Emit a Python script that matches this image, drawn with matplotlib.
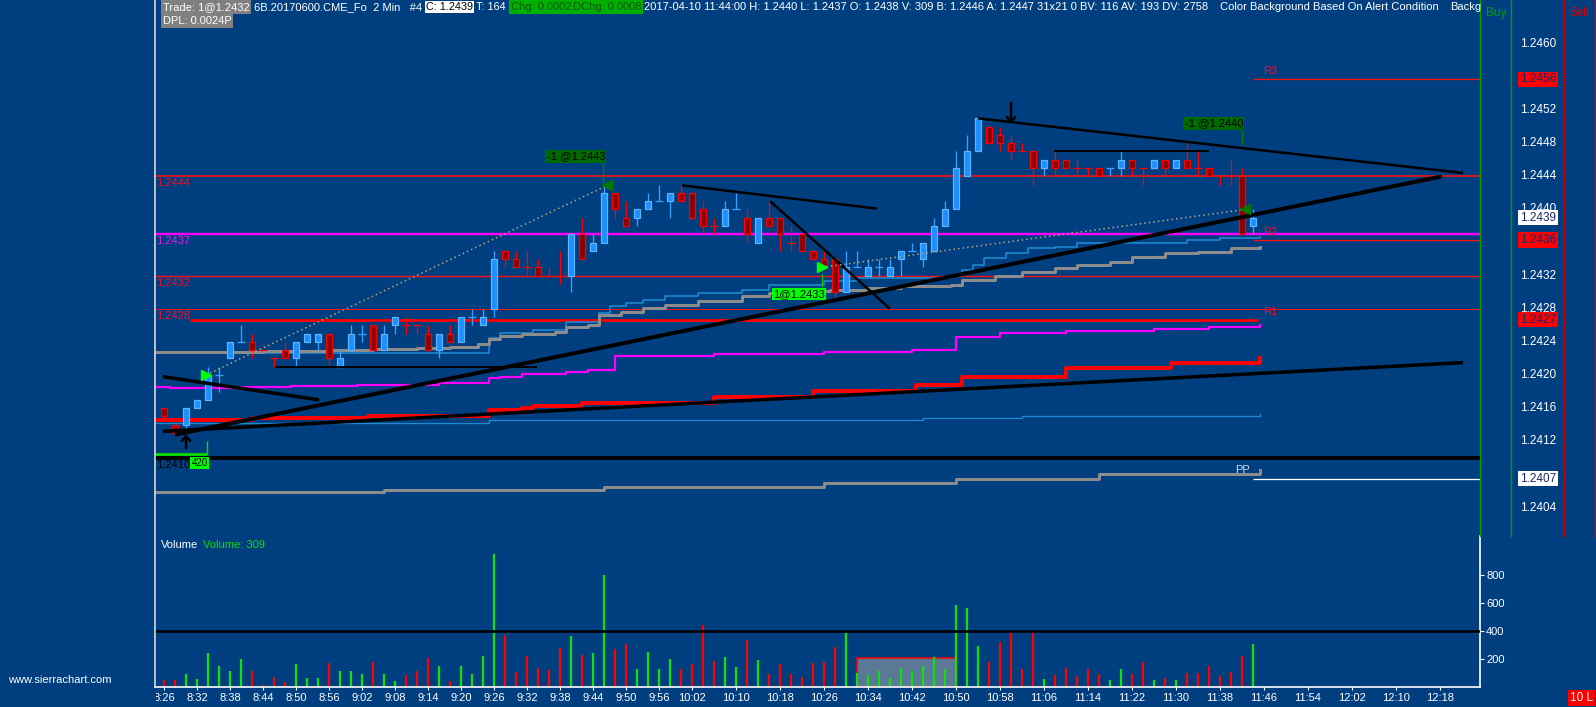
import numpy as np
import matplotlib
matplotlib.use("Agg")
import matplotlib.pyplot as plt
from matplotlib import transforms
from matplotlib.patches import Rectangle
from matplotlib.lines import Line2D
from matplotlib.transforms import Bbox, TransformedBbox

plt.rcParams['font.family'] = ['Liberation Sans', 'DejaVu Sans']

# ---------------- data (2 min bars of 6B from 8:26) ----------------
opens = [1.2416, 1.2414, 1.2414, 1.2416, 1.2417, 1.2420, 1.2422, 1.2424, 1.2424, 1.2423,
         1.2422, 1.2423, 1.2422, 1.2424, 1.2424, 1.2425, 1.2421, 1.2423, 1.2425, 1.2426,
         1.2423, 1.2426, 1.2426, 1.2426, 1.2425, 1.2423, 1.2425, 1.2424, 1.2427, 1.2426,
         1.2428, 1.2435, 1.2434, 1.2433, 1.2433, 1.2432, 1.2432, 1.2432, 1.2437, 1.2435,
         1.2436, 1.2442, 1.2439, 1.2439, 1.2440, 1.2441, 1.2441, 1.2442, 1.2442, 1.2440,
         1.2438, 1.2438, 1.2440, 1.2439, 1.2436, 1.2439, 1.2439, 1.2436, 1.2437, 1.2435,
         1.2434, 1.2434, 1.2430, 1.2433, 1.2432, 1.2433, 1.2432, 1.2434, 1.2435, 1.2434,
         1.2435, 1.2438, 1.2440, 1.2444, 1.2447, 1.2450, 1.2449, 1.2448, 1.2447, 1.2447,
         1.2445, 1.2446, 1.2446, 1.2445, 1.2445, 1.2445, 1.2445, 1.2445, 1.2446, 1.2445,
         1.2445, 1.2446, 1.2445, 1.2446, 1.2445, 1.2445, 1.2444, 1.2444, 1.2444, 1.2438]
highs = [1.2416, 1.2414, 1.2416, 1.2417, 1.2421, 1.2421, 1.2424, 1.2426, 1.2425, 1.2423,
         1.2422, 1.2424, 1.2424, 1.2425, 1.2425, 1.2425, 1.2423, 1.2426, 1.2426, 1.2426,
         1.2426, 1.2427, 1.2427, 1.2426, 1.2426, 1.2425, 1.2426, 1.2427, 1.2428, 1.2428,
         1.2435, 1.2435, 1.2435, 1.2435, 1.2434, 1.2433, 1.2435, 1.2437, 1.2439, 1.2437,
         1.2443, 1.2442, 1.2441, 1.2440, 1.2442, 1.2443, 1.2442, 1.2443, 1.2442, 1.2441,
         1.2439, 1.2441, 1.2442, 1.2440, 1.2439, 1.2441, 1.2439, 1.2438, 1.2437, 1.2435,
         1.2435, 1.2434, 1.2435, 1.2435, 1.2434, 1.2434, 1.2434, 1.2435, 1.2436, 1.2436,
         1.2439, 1.2441, 1.2447, 1.2449, 1.2451, 1.2450, 1.2450, 1.2449, 1.2448, 1.2447,
         1.2446, 1.2447, 1.2446, 1.2446, 1.2445, 1.2445, 1.2445, 1.2447, 1.2446, 1.2445,
         1.2446, 1.2446, 1.2446, 1.2448, 1.2447, 1.2445, 1.2444, 1.2446, 1.2445, 1.2440]
lows = [1.24145, 1.2413, 1.2413, 1.2416, 1.2417, 1.2418, 1.2422, 1.2424, 1.2422, 1.2423,
        1.2421, 1.2422, 1.2421, 1.2424, 1.2423, 1.2421, 1.2421, 1.2423, 1.2424, 1.2423,
        1.2423, 1.2425, 1.2425, 1.2425, 1.2423, 1.2422, 1.2424, 1.2424, 1.2426, 1.2426,
        1.2427, 1.2433, 1.2433, 1.2432, 1.2432, 1.2432, 1.2431, 1.2430, 1.2434, 1.2435,
        1.2436, 1.2439, 1.2438, 1.2438, 1.2440, 1.2441, 1.2439, 1.2441, 1.2439, 1.2437,
        1.2437, 1.2438, 1.2440, 1.2436, 1.2436, 1.2438, 1.2435, 1.2435, 1.2435, 1.2434,
        1.2433, 1.2429, 1.2430, 1.2433, 1.2432, 1.2432, 1.2432, 1.2432, 1.2435, 1.2433,
        1.2435, 1.2438, 1.2440, 1.2444, 1.2447, 1.2448, 1.2447, 1.2446, 1.2447, 1.2443,
        1.2444, 1.2444, 1.2445, 1.2444, 1.2444, 1.2444, 1.2444, 1.2444, 1.2444, 1.2443,
        1.2445, 1.2444, 1.2445, 1.2445, 1.2444, 1.2444, 1.2443, 1.2443, 1.2437, 1.2437]
closes = [1.2415, 1.2413, 1.2416, 1.2417, 1.2420, 1.2420, 1.2424, 1.2424, 1.2423, 1.2423,
          1.2422, 1.2422, 1.2424, 1.2425, 1.2425, 1.2422, 1.2422, 1.2425, 1.2425, 1.2423,
          1.2425, 1.2427, 1.2426, 1.2426, 1.2423, 1.2425, 1.2424, 1.2427, 1.2427, 1.2427,
          1.2434, 1.2434, 1.2433, 1.2433, 1.2432, 1.2432, 1.2432, 1.2437, 1.2434, 1.2436,
          1.2442, 1.2440, 1.2438, 1.2440, 1.2441, 1.2441, 1.2442, 1.2441, 1.2439, 1.2438,
          1.2438, 1.2440, 1.2440, 1.2437, 1.2439, 1.2438, 1.2437, 1.2436, 1.2435, 1.2434,
          1.2433, 1.2430, 1.2433, 1.2433, 1.2433, 1.2433, 1.2433, 1.2435, 1.2435, 1.2436,
          1.2438, 1.2440, 1.2445, 1.2447, 1.2451, 1.2448, 1.2448, 1.2447, 1.2447, 1.2445,
          1.2446, 1.2445, 1.2445, 1.2445, 1.2445, 1.2444, 1.2445, 1.2446, 1.2445, 1.2445,
          1.2446, 1.2445, 1.2446, 1.2445, 1.2445, 1.2444, 1.2444, 1.2444, 1.2437, 1.2439]
# G = up bar, R = down bar (also the volume colour)
bar_dir = ("RRGGGGGGRR" "RRGGGRGGGR" "GGRRRGRGGG" "GRRRRRRGRG" "GRRGGGGRRR"
           "RGGRGRRRRR" "RRGGGGGGGG" "GGGGGRRRRR" "GRRRRRGGRR" "GRGRRRRRRG")
volumes = [51, 51, 93, 58, 240, 149, 114, 198, 114, 16,
           72, 37, 163, 65, 65, 170, 114, 114, 93, 177,
           93, 44, 86, 114, 205, 149, 44, 149, 93, 219,
           951, 372, 107, 219, 135, 121, 281, 365, 226, 240,
           798, 274, 309, 128, 247, 128, 198, 128, 163, 442,
           184, 212, 142, 337, 191, 93, 163, 93, 72, 170,
           177, 288, 393, 100, 86, 114, 65, 135, 114, 149,
           212, 128, 588, 567, 295, 177, 323, 386, 128, 393,
           58, 86, 135, 79, 128, 93, 51, 128, 93, 177,
           51, 65, 51, 100, 100, 149, 79, 107, 219, 309]

tick_labels = ['8:26', '8:32', '8:38', '8:44', '8:50', '8:56', '9:02', '9:08', '9:14',
               '9:20', '9:26', '9:32', '9:38', '9:44', '9:50', '9:56', '10:02',
               '10:10', '10:18', '10:26', '10:34', '10:42', '10:50', '10:58', '11:06',
               '11:14', '11:22', '11:30', '11:38', '11:46', '11:54', '12:02', '12:10', '12:18']

# stepped study lines: (bar, value) knots
grey_ma_bars = [-0.8, 9, 15, 19, 23, 26, 28.5, 29.5, 30.5, 32.5, 35.5, 36.5, 38.5, 39.5, 41.5,
                43.5, 45.5, 48.5, 52.5, 55, 56.5, 60.5, 64, 67, 71.5, 72.5, 75.5, 78, 81, 83,
                86, 88, 91, 94, 97, 99.6]
grey_ma_vals = [1.24228, 1.24229, 1.24230, 1.24231, 1.24233, 1.24234, 1.24237, 1.24244, 1.24247,
                1.24250, 1.24252, 1.24258, 1.24261, 1.24272, 1.24276, 1.24281, 1.24285, 1.24289,
                1.24295, 1.24299, 1.24301, 1.24303, 1.24305, 1.24307, 1.24309, 1.24315, 1.24319,
                1.24325, 1.24329, 1.24333, 1.24337, 1.24343, 1.24347, 1.24349, 1.24353, 1.24355]
blue_ma_bars = [-0.8, 29.5, 30.5, 33.5, 36.5, 39.5, 40.5, 42, 43.5, 45.5, 48.5, 52.5, 55, 60,
                63, 71.5, 72.5, 73.5, 74.5, 76.5, 78.5, 81, 83, 93, 96, 99.6]
blue_ma_vals = [1.24226, 1.24245, 1.24251, 1.24254, 1.24264, 1.24275, 1.24283, 1.24287, 1.24291,
                1.24295, 1.24299, 1.24303, 1.24309, 1.24313, 1.24317, 1.24319, 1.24327, 1.24333,
                1.24341, 1.24347, 1.24353, 1.24355, 1.24359, 1.24363, 1.24366, 1.24367]
magenta_bars = [-0.8, 0.5, 7, 11.5, 17.5, 25, 29.5, 30.5, 32.5, 36.5, 38.5, 41, 50, 60, 68,
                72, 76, 82, 90, 95, 99.6]
magenta_vals = [1.24186, 1.24184, 1.24186, 1.24187, 1.24188, 1.24190, 1.24196, 1.24198, 1.24201,
                1.24204, 1.24206, 1.24223, 1.24225, 1.24228, 1.24230, 1.24246, 1.24251, 1.24253,
                1.24256, 1.24258, 1.24260]
red_ma_bars = [-0.8, 8, 18.5, 22.5, 29.5, 32.5, 33.5, 38, 40.6, 50, 59, 68.4, 72.5, 82, 91.5, 99.6]
red_ma_vals = [1.24146, 1.24148, 1.24150, 1.24151, 1.24158, 1.24160, 1.24162, 1.24166, 1.24166,
               1.24173, 1.24181, 1.24188, 1.24198, 1.24208, 1.24214, 1.24220]
blue_low_bars = [-0.8, 29.5, 69, 78, 99.6]
blue_low_vals = [1.24142, 1.24146, 1.24148, 1.24151, 1.24153]
grey_low_bars = [-0.8, 20, 40, 60, 72, 85, 99.6]
grey_low_vals = [1.24059, 1.24061, 1.24065, 1.24070, 1.24074, 1.24080, 1.24085]

# drawn trend lines: bar0, price0, bar1, price1, width(px)
trend_lines = [(1.0, 1.24128, 116.2, 1.24440, 4.0),
               (-0.1, 1.24132, 118.1, 1.24215, 3.5),
               (-0.1, 1.24198, 14.1, 1.24170, 3.5),
               (10.1, 1.24210, 33.9, 1.24210, 2.0),
               (47.1, 1.24429, 64.8, 1.24401, 2.5),
               (55.1, 1.24410, 66.0, 1.24280, 2.5),
               (74.0, 1.24510, 118.1, 1.24444, 2.5),
               (80.9, 1.24471, 95.0, 1.24471, 2.0)]

# full width price levels: price, colour, width(px), label
levels = [(1.2444, '#FF1010', 1.6, '1.2444', '#E8102F'),
          (1.2437, '#FF00FF', 2.4, '1.2437', '#E020E0'),
          (1.2432, '#FF1010', 1.4, '1.2432', '#E8102F'),
          (1.2428, '#FF1010', 1.0, '1.2428', '#E8102F'),
          (1.2410, '#000000', 3.8, '1.2410', '#000000')]
daily_level = 1.24267
pivots = [('R3', 1.24557), ('R2', 1.24363), ('PP', 1.24075)]
r1_level = 1.2428
pivot_start = 99.0

# labels on the price scale (the ones covered by marker boxes are not drawn)
axis_prices = [1.2460, 1.2452, 1.2448, 1.2444, 1.2440, 1.2432, 1.2428,
               1.2424, 1.2420, 1.2416, 1.2412, 1.2404]
last_price = 1.2439

# trade fills: bar, price
buy_fills = [(3.8, 1.24200), (59.8, 1.24330)]
sell_fills = [(40.3, 1.24429), (98.3, 1.24400)]
vol_zone = (63, 72, 210)

# ---------------- layout ----------------
W, H = 1596, 707
BG = '#003F7F'
X0, X1 = 155, 1480
MAIN_BOT, VOL_BOT = 536, 687
BAR0_PX, BAR_PX = 164, 11.0
REF_PRICE, REF_PX, PX_PER_PRICE = 1.2444, 176.3, 82800.0
VOL_PX_PER_200 = 28.0
PT = 0.72  # points per pixel


def price_at(py):
    return REF_PRICE - (py - REF_PX) / PX_PER_PRICE


def fx(px):
    return px / W


def fy(py):
    return 1 - py / H


fig = plt.figure(figsize=(W / 100, H / 100), dpi=100, facecolor=BG)

ax = fig.add_axes([fx(X0), fy(MAIN_BOT), (X1 - X0) / W, MAIN_BOT / H])
xl, xr = (X0 - BAR0_PX) / BAR_PX, (X1 - BAR0_PX) / BAR_PX
ax.set_xlim(xl, xr)
ax.set_ylim(price_at(MAIN_BOT), price_at(0))
ax.axis('off')

axv = fig.add_axes([fx(X0), fy(VOL_BOT), (X1 - X0) / W, (VOL_BOT - MAIN_BOT) / H])
axv.set_facecolor(BG)
axv.set_xlim(xl, xr)
axv.set_ylim(0, (VOL_BOT - MAIN_BOT) * 200 / VOL_PX_PER_200)

# ---------------- price levels ----------------
below = transforms.offset_copy(ax.transData, fig=fig, y=-2, units='dots')
for p, col, w, lab, lcol in levels:
    ax.axhline(p, color=col, lw=w * PT, zorder=1)
    ax.text(xl + 0.08, p, lab, color=lcol, fontsize=8, va='top', ha='left',
            transform=below, zorder=6)
ax.hlines(daily_level, 2.36, 99.45, color='#FF0000', lw=2.8 * PT, zorder=1)

for name, p in pivots:
    col = '#FFFFFF' if name == 'PP' else '#FF1010'
    ax.hlines(p, pivot_start, xr, color=col, lw=1.3 * PT, zorder=1)
above = transforms.offset_copy(ax.transData, fig=fig, y=3, units='dots')
ax.text(pivot_start + 0.9, pivots[0][1], 'R3', color='#E8102F', fontsize=8, va='bottom',
        transform=above)
ax.text(pivot_start + 0.9, pivots[1][1], 'R2', color='#E8102F', fontsize=8, va='bottom',
        transform=above)
ax.text(pivot_start + 0.9, r1_level, 'R1', color='#E8102F', fontsize=8, va='top',
        transform=transforms.offset_copy(ax.transData, fig=fig, y=2, units='dots'))
ax.text(pivot_start - 0.3, grey_low_vals[-1], 'PP', color='#D8D8D8', fontsize=8,
        va='center', ha='right')

# ---------------- studies ----------------
ax.plot(blue_low_bars, blue_low_vals, drawstyle='steps-post', color='#1F8AD0', lw=1.3 * PT, zorder=2)
ax.plot(grey_low_bars, grey_low_vals, drawstyle='steps-post', color='#8C8C8C', lw=3 * PT, zorder=2)
ax.plot(red_ma_bars, red_ma_vals, drawstyle='steps-post', color='#FF0000', lw=4 * PT, zorder=2)
ax.plot(magenta_bars, magenta_vals, drawstyle='steps-post', color='#FF00FF', lw=2.2 * PT, zorder=2)
ax.plot(blue_ma_bars, blue_ma_vals, drawstyle='steps-post', color='#1F8AD0', lw=1.6 * PT, zorder=2)
ax.plot(grey_ma_bars, grey_ma_vals, drawstyle='steps-post', color='#8C8C8C', lw=3 * PT, zorder=2)

# ---------------- candles ----------------
o, h, l, c = map(np.array, (opens, highs, lows, closes))
idx = np.arange(len(o))
up = np.array([d == 'G' for d in bar_dir])
wick_col = np.where(up, '#3D9EFF', '#FF0000')
fill_col = np.where(up, '#1E8FFF', '#8B0000')
edge_col = np.where(up, '#5CB6FF', '#FF0000')
ax.vlines(idx, l, h, colors=wick_col, lw=1.3 * PT, zorder=3)
solid = c != o
ax.bar(idx[solid], np.abs(c - o)[solid], bottom=np.minimum(o, c)[solid], width=0.56,
       color=fill_col[solid], edgecolor=edge_col[solid], linewidth=1.2 * PT, zorder=4)
dj = ~solid
ax.hlines(o[dj], idx[dj] - 0.33, idx[dj] + 0.33, colors=wick_col[dj], lw=1.3 * PT, zorder=4)

# ---------------- drawings ----------------
for b0, p0, b1, p1, w in trend_lines:
    ax.plot([b0, b1], [p0, p1], color='black', lw=w * PT, solid_capstyle='butt', zorder=5)

ax.annotate('', xy=(77, 1.24500), xytext=(77, 1.24532),
            arrowprops=dict(arrowstyle='->,head_width=0.3,head_length=0.35', color='black',
                            lw=1.8), zorder=5)
ax.annotate('', xy=(2, 1.24132), xytext=(2, 1.24108),
            arrowprops=dict(arrowstyle='->,head_width=0.3,head_length=0.35', color='black',
                            lw=1.8), zorder=5)

# trade connection lines
for (bb, bp), (sb, sp) in [(buy_fills[0], sell_fills[0]), (buy_fills[1], sell_fills[1])]:
    ax.plot([bb, sb], [bp, sp], color='#B8A27C', lw=1.1, ls=(0, (1, 2)), zorder=5)
for bb, bp in buy_fills:
    ax.plot(bb, bp, marker='>', ms=7, color='#00FF00', ls='none', zorder=6)
for sb, sp in sell_fills:
    ax.plot(sb, sp, marker='<', ms=7, color='#007A00', ls='none', zorder=6)

box_dk = dict(boxstyle='square,pad=0.12', fc='#006A00', ec='none')
box_lt = dict(boxstyle='square,pad=0.12', fc='#00FF00', ec='none')
ax.vlines(39.95, 1.24430, 1.24456, color='#008000', lw=1, zorder=6)
ax.text(40.1, 1.24458, '-1 @1.2443', ha='right', va='bottom', fontsize=8, color='black',
        bbox=box_dk, zorder=7)
ax.vlines(59.8, 1.24306, 1.24322, color='#00C000', lw=1, zorder=6)
ax.text(60.1, 1.24304, '1@1.2433', ha='right', va='top', fontsize=8, color='black',
        bbox=box_lt, zorder=7)
ax.vlines(97.97, 1.24478, 1.24496, color='#008000', lw=1, zorder=6)
ax.text(98.1, 1.24498, '-1 @1.2440', ha='right', va='bottom', fontsize=8, color='black',
        bbox=box_dk, zorder=7)
ax.hlines(1.24105, xl, 3.95, color='#00E000', lw=2, zorder=6)
ax.vlines(3.9, 1.24105, 1.24120, color='#00E000', lw=1, zorder=6)
ax.text(3.95, 1.24094, '420', ha='right', va='center', fontsize=7, color='black',
        bbox=box_lt, zorder=4)

# ---------------- price axis ----------------
right = transforms.blended_transform_factory(fig.transFigure, ax.transData)
for p in axis_prices:
    ax.text(fx(1520), p, f'{p:.4f}', transform=right, color='white', fontsize=8.5,
            va='center', ha='left', clip_on=False, zorder=8)
boxes = [(pivots[0][1], '1.2456', '#FF0000'), (pivots[1][1], '1.2436', '#FF0000'),
         (daily_level, '1.2427', '#FF0000'), (last_price, '1.2439', '#FFFFFF'),
         (pivots[2][1], '1.2407', '#FFFFFF')]
for p, lab, fc in boxes:
    ax.text(fx(1520), p, lab, transform=right, color='#1A2A66', fontsize=8.5, va='center',
            ha='left', clip_on=False, zorder=9,
            bbox=dict(boxstyle='square,pad=0.15', fc=fc, ec='none'))

# ---------------- volume ----------------
vcol = np.where(up, '#10E010', '#FF0000')
axv.add_patch(Rectangle((vol_zone[0], 0), vol_zone[1] - vol_zone[0], vol_zone[2],
                        fc='#7A8CA0', ec='#FF0000', lw=1.5, alpha=0.75, zorder=1))
axv.vlines(idx, 0, volumes, colors=vcol, lw=1.6 * PT * 1.4, zorder=2)
axv.axhline(400, color='black', lw=2.6 * PT, zorder=3)
for s in ('top', 'left'):
    axv.spines[s].set_visible(False)
for s in ('bottom', 'right'):
    axv.spines[s].set_color('white')
    axv.spines[s].set_linewidth(1.2)
axv.yaxis.tick_right()
axv.set_yticks([200, 400, 600, 800])
axv.tick_params(axis='y', colors='white', labelsize=8, length=3, pad=1.5)

start = 8 * 60 + 26
tick_pos = [(int(t.split(':')[0]) * 60 + int(t.split(':')[1]) - start) / 2 for t in tick_labels]
axv.set_xticks(tick_pos)
axv.set_xticklabels(tick_labels)
axv.tick_params(axis='x', colors='white', labelsize=8, length=2.5, pad=2)
first = axv.get_xticklabels()[0]
first.set_clip_box(TransformedBbox(Bbox([[fx(X0 + 1), 0], [1, 1]]), fig.transFigure))
first.set_clip_on(True)

# ---------------- frame lines ----------------
def fline(x0, y0, x1, y1, col, w):
    fig.add_artist(Line2D([fx(x0), fx(x1)], [fy(y0), fy(y1)], color=col, lw=w,
                          transform=fig.transFigure))


fline(X0, 0, X0, VOL_BOT, '#D8D8D8', 1.2)
fline(1480, 0, 1480, MAIN_BOT, '#00A000', 1.0)
fline(1511, 0, 1511, MAIN_BOT, '#00A000', 1.0)
fline(1564, 0, 1564, MAIN_BOT, '#D00000', 1.0)
fline(1594.5, 0, 1594.5, MAIN_BOT, '#D00000', 1.0)

# ---------------- header / texts ----------------
def ftext(px, py, s, col='white', size=8, bg=None, pad=0.15, **kw):
    bb = dict(boxstyle=f'square,pad={pad}', fc=bg, ec='none') if bg else None
    return fig.text(fx(px), fy(py), s, color=col, fontsize=size, va='center', ha='left',
                    bbox=bb, **kw)


ftext(163, 7, 'Trade: 1@1.2432', bg='#808080')
ftext(254, 7, '6B.20170600.CME_Fo  2 Min   #4')
ftext(426, 7, 'C: 1.2439', col='black', bg='white', size=7.8, pad=0.05)
ftext(476, 7, 'T: 164', size=7.8)
ftext(511, 7, 'Chg: 0.0002', col='#005A00', bg='#00B000')
ftext(573, 7, 'DChg: 0.0008', col='#005A00', bg='#00B000')
ftext(644, 7, '2017-04-10 11:44:00 H: 1.2440 L: 1.2437 O: 1.2438 V: 309 B: 1.2446 '
              'A: 1.2447 31x21 0 BV: 116 AV: 193 DV: 2758')
ftext(1220, 7, 'Color Background Based On Alert Condition')
ftext(1450, 7, 'Backg')
ftext(163, 21, 'DPL: 0.0024P', bg='#808080')
ftext(1486, 13, 'Buy', col='#00A000', size=8.5)
ftext(1569, 13, 'Sell', col='#E00000', size=8.5)
ftext(161, 545, 'Volume')
ftext(203, 545, 'Volume: 309', col='#00E000')
ftext(8, 680, 'www.sierrachart.com')
ftext(1570, 698, '10 L', bg='#FF0000', size=8.5)

fig.savefig('out.png', dpi=100, facecolor=BG)
